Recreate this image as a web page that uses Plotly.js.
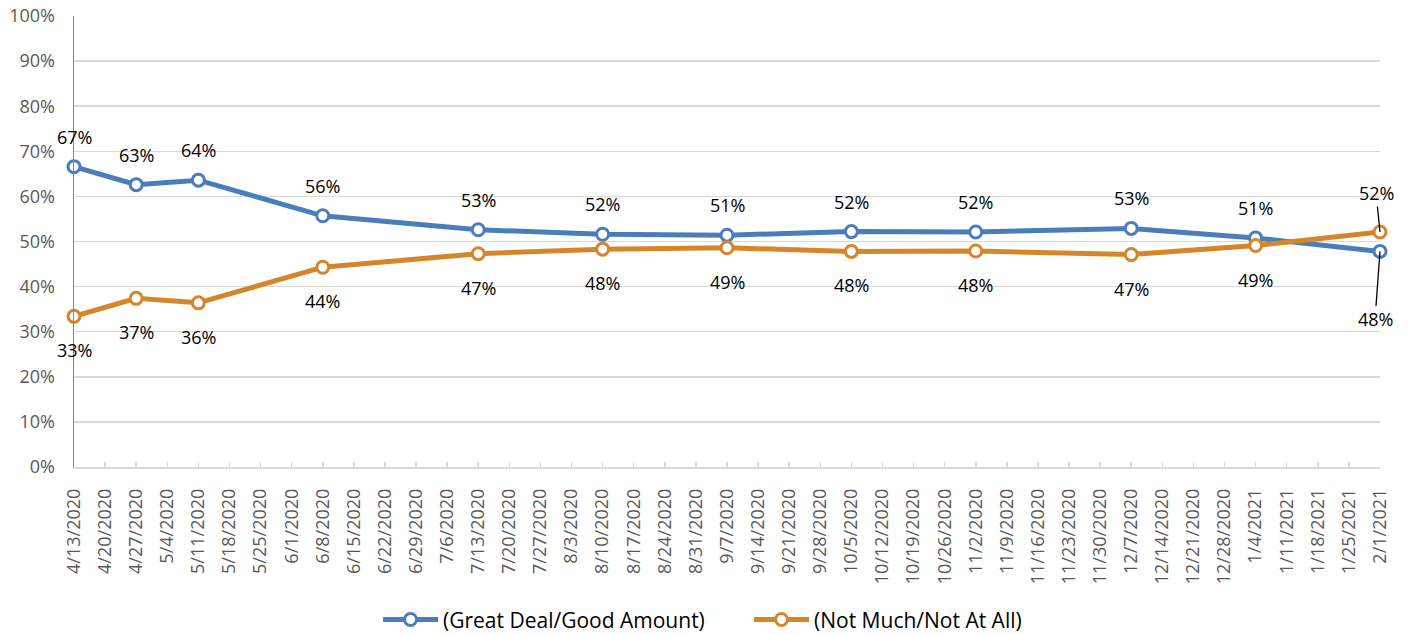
<!DOCTYPE html>
<html>
<head>
<meta charset="utf-8">
<script src="https://cdn.plot.ly/plotly-3.0.1.min.js"></script>
<style>html,body{margin:0;padding:0;background:#fff;}#chart{width:1408px;height:634px;}</style>
</head>
<body>
<div id="chart"></div>
<script>
const weekLabels = ['4/13/2020','4/20/2020','4/27/2020','5/4/2020','5/11/2020','5/18/2020','5/25/2020','6/1/2020','6/8/2020','6/15/2020','6/22/2020','6/29/2020','7/6/2020','7/13/2020','7/20/2020','7/27/2020','8/3/2020','8/10/2020','8/17/2020','8/24/2020','8/31/2020','9/7/2020','9/14/2020','9/21/2020','9/28/2020','10/5/2020','10/12/2020','10/19/2020','10/26/2020','11/2/2020','11/9/2020','11/16/2020','11/23/2020','11/30/2020','12/7/2020','12/14/2020','12/21/2020','12/28/2020','1/4/2021','1/11/2021','1/18/2021','1/25/2021','2/1/2021'];
const surveyDates = ['4/13/2020','4/27/2020','5/11/2020','6/8/2020','7/13/2020','8/10/2020','9/7/2020','10/5/2020','11/2/2020','12/7/2020','1/4/2021','2/1/2021'];
const greatDeal = [66.6, 62.6, 63.6, 55.7, 52.6, 51.6, 51.4, 52.2, 52.1, 52.9, 50.8, 47.8];
const notMuch   = [33.4, 37.4, 36.4, 44.3, 47.3, 48.3, 48.6, 47.8, 47.9, 47.1, 49.1, 52.1];
const seriesNames = ['(Great Deal/Good Amount)', '(Not Much/Not At All)'];
const yTicks = [0,10,20,30,40,50,60,70,80,90,100];

const BLUE = '#4A7EBB', ORANGE = '#D5862A';
const FONT = 'Open Sans, sans-serif';

function mkTrace(name, y, color) {
  return {
    type: 'scatter', mode: 'lines+markers', name: name,
    x: surveyDates, y: y, cliponaxis: false,
    line: {color: color, width: 5},
    marker: {symbol: 'circle', size: 12, color: '#ffffff', line: {color: color, width: 3}},
    hoverinfo: 'skip'
  };
}

const traces = [mkTrace(seriesNames[0], greatDeal, BLUE), mkTrace(seriesNames[1], notMuch, ORANGE)];

const annotations = [];
const last = surveyDates.length - 1;
surveyDates.forEach((d, i) => {
  const lf = {family: FONT, size: 18, color: '#000'};
  if (i === last) {
    annotations.push({x: d, y: greatDeal[i], xref: 'x', yref: 'y', text: Math.round(greatDeal[i]) + '%',
      showarrow: true, arrowhead: 0, arrowwidth: 1.3, arrowcolor: '#000', standoff: 0, ax: -5, ay: 68, font: lf});
    annotations.push({x: d, y: notMuch[i], xref: 'x', yref: 'y', text: Math.round(notMuch[i]) + '%',
      showarrow: true, arrowhead: 0, arrowwidth: 1.3, arrowcolor: '#000', standoff: 0, ax: -4, ay: -39, font: lf});
  } else {
    annotations.push({x: d, y: greatDeal[i], xref: 'x', yref: 'y', text: Math.round(greatDeal[i]) + '%',
      showarrow: false, yshift: 30, font: lf});
    annotations.push({x: d, y: notMuch[i], xref: 'x', yref: 'y', text: Math.round(notMuch[i]) + '%',
      showarrow: false, yshift: -34, font: lf});
  }
});

const layout = {
  width: 1408, height: 634,
  margin: {l: 74, r: 28, t: 16, b: 167, autoexpand: false},
  paper_bgcolor: '#fff', plot_bgcolor: '#fff',
  font: {family: FONT, color: '#595959', size: 17},
  showlegend: true,
  legend: {orientation: 'h', x: 0.2328, xanchor: 'left', y: -0.339, yanchor: 'middle',
    font: {family: FONT, size: 21, color: '#000'}, itemwidth: 55, entrywidth: 301, entrywidthmode: 'pixels',
    traceorder: 'normal'},
  xaxis: {
    type: 'category', categoryorder: 'array', categoryarray: weekLabels,
    tickmode: 'array', tickvals: weekLabels, ticktext: weekLabels,
    range: [0, weekLabels.length - 1], automargin: false,
    tickangle: -90, tickfont: {family: FONT, size: 18, color: '#595959'},
    ticks: 'inside', ticklen: 5, tickcolor: '#d9d9d9', tickwidth: 1.5,
    ticklabelstandoff: 13,
    showline: true, linecolor: '#d9d9d9', linewidth: 1.5,
    showgrid: false, zeroline: false, fixedrange: true
  },
  yaxis: {
    range: [0, 100], tickmode: 'array', tickvals: yTicks, ticktext: yTicks.map(v => v + '%'),
    tickfont: {family: FONT, size: 18, color: '#595959'}, automargin: false,
    showgrid: true, gridcolor: '#d9d9d9', gridwidth: 1.5,
    showline: true, linecolor: '#868686', linewidth: 1.5,
    zeroline: false, ticks: '', ticklabelstandoff: 14, fixedrange: true
  },
  annotations: annotations
};

Plotly.newPlot('chart', traces, layout, {displayModeBar: false, staticPlot: true});
</script>
</body>
</html>
